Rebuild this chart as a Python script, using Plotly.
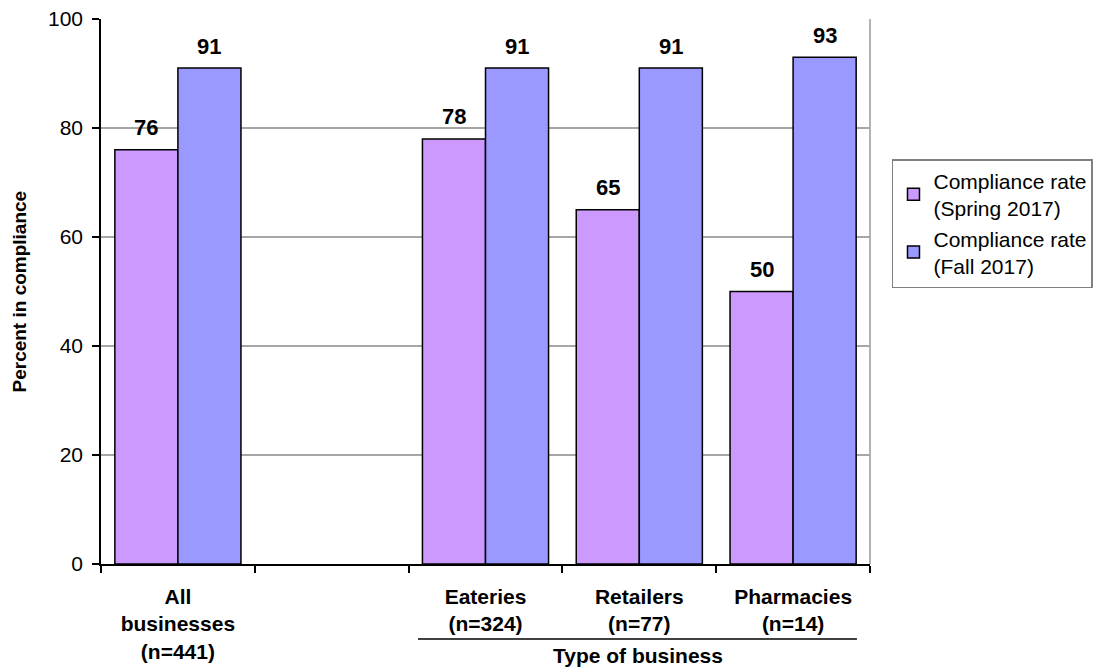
import plotly.graph_objects as go

# Categories along the x axis (the second slot is an intentional spacer)
categories = [
    "<b>All<br>businesses<br>(n=441)</b>",
    " ",
    "<b>Eateries<br>(n=324)</b>",
    "<b>Retailers<br>(n=77)</b>",
    "<b>Pharmacies<br>(n=14)</b>",
]
spring_2017 = [76, None, 78, 65, 50]
fall_2017 = [91, None, 91, 91, 93]
series_names = ["Compliance rate<br>(Spring 2017)", "Compliance rate<br>(Fall 2017)"]
series_colors = ["#CC99FF", "#9999FF"]
y_ticks = [0, 20, 40, 60, 80, 100]

FONT = "Liberation Sans, Arial, sans-serif"
BARGAP = 0.18

fig = go.Figure()
for name, vals, color in zip(series_names, [spring_2017, fall_2017], series_colors):
    fig.add_trace(go.Bar(
        x=categories, y=vals, name=name,
        marker=dict(color=color, line=dict(color="black", width=1.5)),
    ))

# Value labels above each bar
half = (1 - BARGAP) / 4
annotations = []
for offset, vals in zip([-half, half], [spring_2017, fall_2017]):
    for i, v in enumerate(vals):
        if v is None:
            continue
        annotations.append(dict(
            x=i + offset, y=v, xref="x", yref="y", text=f"<b>{v}</b>",
            showarrow=False, yanchor="middle", yshift=22,
            font=dict(family=FONT, size=22, color="black"),
        ))

# Group caption under the business-type categories
annotations.append(dict(
    x=0.6977, y=-0.167, xref="paper", yref="paper", text="<b>Type of business</b>",
    showarrow=False, xanchor="center", yanchor="middle",
    font=dict(family=FONT, size=21, color="black"),
))
# Y axis title
annotations.append(dict(
    x=0, y=0.5, xref="paper", yref="paper", text="<b>Percent in compliance</b>",
    showarrow=False, textangle=-90, xanchor="center", yanchor="middle", xshift=-82,
    font=dict(family=FONT, size=19, color="black"),
))

shapes = [
    # underline grouping the business types
    dict(type="line", xref="paper", yref="paper", x0=0.4122, x1=0.983, y0=-0.1376, y1=-0.1376,
         line=dict(color="black", width=1.5)),
    # right edge of the plot area
    dict(type="line", xref="paper", yref="paper", x0=1, x1=1, y0=0, y1=1,
         line=dict(color="#999999", width=1.5), layer="below"),
]

fig.update_layout(
    width=1094, height=667,
    margin=dict(l=101, r=224, t=19, b=103, autoexpand=False),
    paper_bgcolor="white", plot_bgcolor="white",
    barmode="group", bargap=BARGAP, bargroupgap=0,
    font=dict(family=FONT, size=21, color="black"),
    showlegend=True,
    legend=dict(
        x=1.0286, y=0.743, xanchor="left", yanchor="top",
        bgcolor="white", bordercolor="#808080", borderwidth=1.5,
        font=dict(family=FONT, size=21, color="black"),
        itemwidth=30,
    ),
    annotations=annotations,
    shapes=shapes,
)
fig.update_xaxes(
    type="category", categoryorder="array", categoryarray=categories,
    range=[-0.5, 4.5], automargin=False,
    showline=True, linecolor="black", linewidth=1.5,
    ticks="outside", tickson="boundaries", ticklen=7, tickcolor="black", tickwidth=1.5,
    tickfont=dict(family=FONT, size=21, color="black"),
    ticklabelstandoff=13,
    showgrid=False, zeroline=False,
)
fig.update_yaxes(
    range=[0, 100], tickvals=y_ticks, automargin=False,
    showline=True, linecolor="black", linewidth=1.5,
    ticks="outside", ticklen=7, tickcolor="black", tickwidth=1.5,
    tickfont=dict(family=FONT, size=21, color="black"),
    ticklabelstandoff=5,
    showgrid=True, gridcolor="#A6A6A6", gridwidth=1.5,
    zeroline=False,
)

fig.write_html("out.html")
